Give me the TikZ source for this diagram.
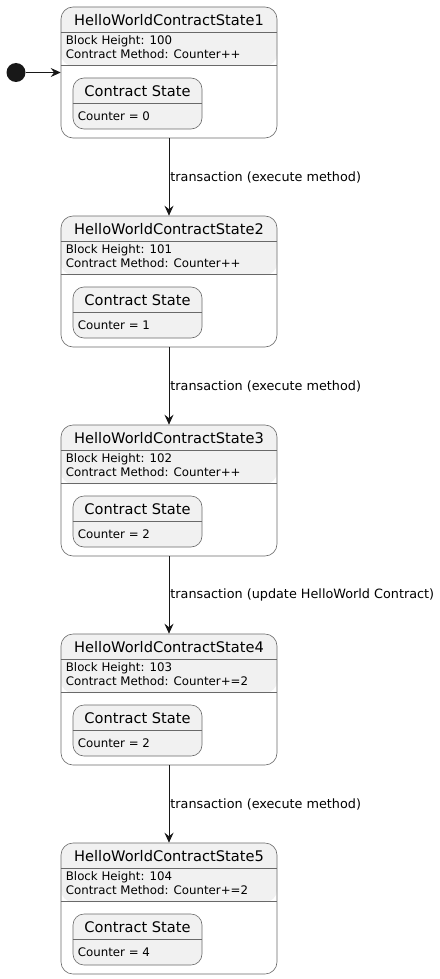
\documentclass[tikz,border=0pt]{standalone}
\usepackage{fontspec}
\setmainfont{DejaVu Sans}
\usetikzlibrary{arrows.meta, positioning}
\definecolor{statefill}{HTML}{F1F1F1}
\definecolor{lineclr}{HTML}{181818}

\begin{document}
\begin{tikzpicture}[x=1pt, y=-1pt,
            statebox/.style={draw=lineclr!65, line width=0.6pt, rounded corners=12pt, fill=white,
                minimum width=216pt, minimum height=131pt, inner sep=0pt,
                path picture={\fill[statefill] (path picture bounding box.north west) rectangle ([yshift=-59pt]path picture bounding box.north east);}},
            innerbox/.style={draw=lineclr!65, line width=0.6pt, rounded corners=11pt, fill=statefill,
                minimum width=129pt, minimum height=51pt, inner sep=0pt},
            sep/.style={draw=lineclr!65, line width=0.6pt},
            titletext/.style={font=\fontsize{14.6}{17}\selectfont, inner sep=0pt},
            desctext/.style={font=\fontsize{11.8}{14}\selectfont, align=left, inner sep=0pt},
            initdot/.style={circle, fill=lineclr, minimum size=19pt, inner sep=0pt},
            flow/.style={draw=lineclr, line width=0.8pt, -{Stealth[length=10pt, width=9pt, inset=3.5pt]}},
            edgelabel/.style={anchor=west, font=\fontsize{12.8}{15}\selectfont, inner sep=1pt}]

    \useasboundingbox (0,0) rectangle (439,979);

    % states with their contract state
    \foreach \n/\h/\m/\c in {1/100/Counter++/0, 2/101/Counter++/1, 3/102/Counter++/2,
                             4/103/Counter+=2/2, 5/104/Counter+=2/4} {
        \node[statebox] (s\n) at (169, {72.5+209*(\n-1)}) {};
        \node[titletext] (t\n) at ([yshift=-13pt]s\n.north) {HelloWorldContractState\n};
        \draw[sep] ([yshift=-26pt]s\n.north west) -- ([yshift=-26pt]s\n.north east);
        \draw[sep] ([yshift=-59pt]s\n.north west) -- ([yshift=-59pt]s\n.north east);
        \node[desctext, anchor=north west] (d\n) at ([shift={(5pt,-28.5pt)}]s\n.north west)
            {Block Height: \h\\Contract Method: \m};

        \node[innerbox] (c\n) at ([shift={(-31.5pt,-31pt)}]s\n.center) {};
        \node[titletext] (ct\n) at ([yshift=-13pt]c\n.north) {Contract State};
        \draw[sep] ([yshift=-26pt]c\n.north west) -- ([yshift=-26pt]c\n.north east);
        \node[desctext, anchor=west] (cv\n) at ([shift={(5pt,-38.5pt)}]c\n.north west) {Counter = \c};
    }

    \node[initdot] (start) at (16,72.5) {};
    \draw[flow] (start) -- (s1.west);

    \draw[flow] (s1) -- node[edgelabel] {transaction (execute method)} (s2);
    \draw[flow] (s2) -- node[edgelabel] {transaction (execute method)} (s3);
    \draw[flow] (s3) -- node[edgelabel] {transaction (update HelloWorld Contract)} (s4);
    \draw[flow] (s4) -- node[edgelabel] {transaction (execute method)} (s5);
\end{tikzpicture}
\end{document}
